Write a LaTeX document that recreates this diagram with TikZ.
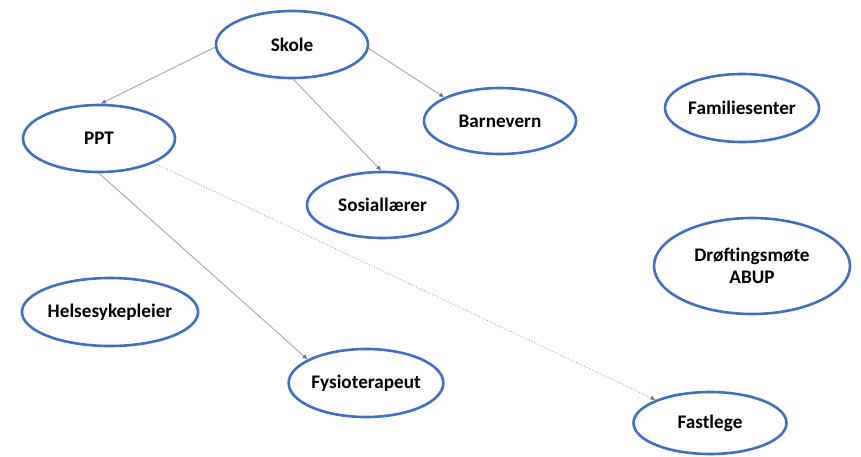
\documentclass[tikz,border=0pt]{standalone}
\usepackage{fontspec}
\setmainfont{Carlito}
\usetikzlibrary{shapes.geometric,arrows.meta}
\definecolor{eblue}{HTML}{4270BE}
\definecolor{lgrey}{HTML}{A6A6A6}
\tikzset{
  bubble/.style={ellipse, draw=eblue, line width=2.6pt, inner sep=0pt, fill=white,
    font=\fontsize{19.2}{22}\selectfont\bfseries, align=center},
  link/.style={draw=lgrey, line width=0.9pt, -{Latex[length=5pt,width=4.5pt,color=eblue]}},
  dotlink/.style={link, dotted}
}
\begin{document}
\begin{tikzpicture}[x=1pt,y=-1pt]
\useasboundingbox (0,0) rectangle (861,456);
\node[bubble, minimum width=152pt, minimum height=67pt] (skole) at (292,44.5) {Skole};
\node[bubble, minimum width=152pt, minimum height=67pt] (ppt) at (99,138.5) {PPT};
\node[bubble, minimum width=151pt, minimum height=66pt] (sosial) at (382.5,205) {Sosiallærer};
\node[bubble, minimum width=152pt, minimum height=66pt] (barnevern) at (500,121) {Barnevern};
\node[bubble, minimum width=154pt, minimum height=68pt] (familie) at (742,108) {Familiesenter};
\node[bubble, minimum width=196pt, minimum height=96pt] (abup) at (752,266) {Drøftingsmøte\\ABUP};
\node[bubble, minimum width=154pt, minimum height=68pt] (helse) at (110,312) {Helsesykepleier};
\node[bubble, minimum width=154pt, minimum height=68pt] (fysio) at (366,383) {Fysioterapeut};
\node[bubble, minimum width=153pt, minimum height=62pt] (fastlege) at (710,423) {Fastlege};
\draw[link] (skole.182) -- (ppt.87);
\draw[link] (skole.-3) -- (barnevern.157);
\draw[link] (skole.-88) -- (sosial.92);
\draw[link] (ppt.-90) -- (fysio.158);
\draw[dotlink] (ppt.-24) -- (fastlege.157);
\end{tikzpicture}
\end{document}
